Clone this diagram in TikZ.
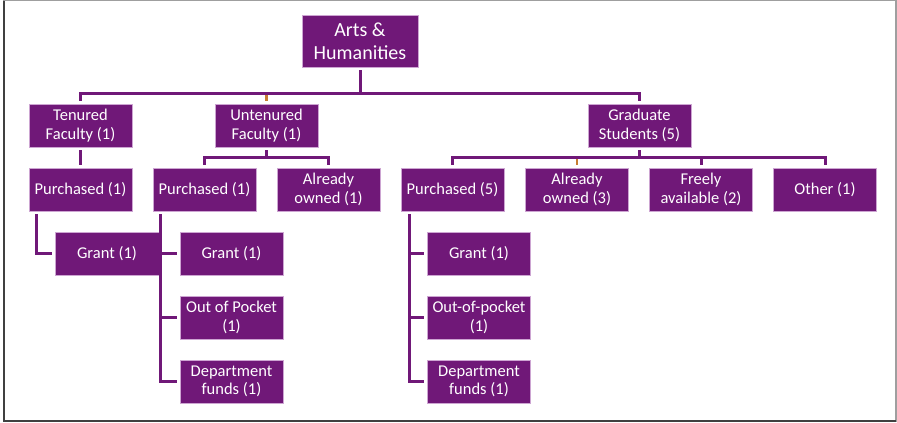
\documentclass[tikz,border=0pt]{standalone}
\usepackage{fontspec}
\setmainfont{Carlito}
\usetikzlibrary{calc}
\definecolor{pp}{RGB}{112,24,120}
\definecolor{pedge}{RGB}{205,165,210}
\definecolor{tickc}{RGB}{200,125,50}
\begin{document}
\begin{tikzpicture}[x=1pt,y=-1pt,
  box/.style={fill=pp, draw=pedge, line width=0.8pt, text=white, align=center,
    minimum width=103pt, minimum height=43pt, inner sep=0pt,
    font=\fontsize{16.5}{18.5}\selectfont},
  conn/.style={draw=pp, line width=3pt, shorten <=3pt, shorten >=3pt},
  tickline/.style={draw=tickc, line width=2.2pt, shorten <=3pt}]
\useasboundingbox (0,0) rectangle (897,423);
\draw[gray!75, line width=1.2pt] (4,0.8) rectangle (896,421);
\draw[gray!50!black, line width=1.6pt] (4,0.8) -- (4,421) -- (896,421);
% nodes
\node[box, minimum width=116pt, minimum height=52pt, font=\fontsize{20}{23}\selectfont] (root) at (360,41) {Arts \&\\Humanities};
\node[box] (tf) at (80.5,125.5) {Tenured\\Faculty (1)};
\node[box] (uf) at (266.5,125.5) {Untenured\\Faculty (1)};
\node[box] (gs) at (639.5,125.5) {Graduate\\Students (5)};
\node[box] (tp) at (80.5,189.5) {Purchased (1)};
\node[box] (up) at (204.5,189.5) {Purchased (1)};
\node[box] (uo) at (328.5,189.5) {Already\\owned (1)};
\node[box] (gp) at (452.5,189.5) {Purchased (5)};
\node[box] (go) at (577,189.5) {Already\\owned (3)};
\node[box] (gf) at (701,189.5) {Freely\\available (2)};
\node[box] (gx) at (825,189.5) {Other (1)};
\node[box, minimum width=104pt] (tg) at (107,253.5) {Grant (1)};
\node[box] (ug) at (231.5,253.5) {Grant (1)};
\node[box] (uop) at (231.5,317.5) {Out of Pocket\\(1)};
\node[box] (ud) at (231.5,381.5) {Department\\funds (1)};
\node[box] (gg) at (479,253.5) {Grant (1)};
\node[box] (gop) at (479,317.5) {Out-of-pocket\\(1)};
\node[box] (gd) at (479,381.5) {Department\\funds (1)};
% level 1
\coordinate (b1) at (360,93);
\draw[tickline] (uf.north) -- (uf.north |- b1);
\draw[conn] (tf.north) -- (tf.north |- b1) -- (gs.north |- b1) -- (gs.north);
\draw[conn, shorten >=0pt] (root.south) -- (root.south |- b1);
% level 2
\coordinate (b2) at (360,157);
\draw[conn] (tf.south) -- (tp.north);
\draw[conn] (up.north) -- (up.north |- b2) -- (uo.north |- b2) -- (uo.north);
\draw[conn, shorten >=0pt] (uf.south) -- (uf.south |- b2);
\draw[tickline] (go.north) -- (go.north |- b2);
\draw[conn] (gp.north) -- (gp.north |- b2) -- (gx.north |- b2) -- (gx.north);
\draw[conn, shorten >=0pt] (gf.north) -- (gf.north |- b2);
\draw[conn, shorten >=0pt] (gs.south) -- (gs.south |- b2);
% level 3
\coordinate (tv) at ($(tp.south west)+(8,0)$);
\coordinate (uv) at ($(up.south west)+(8,0)$);
\coordinate (gv) at ($(gp.south west)+(9,0)$);
\draw[conn] (tv) |- (tg.west);
\draw[conn] (uv) |- (ud.west);
\draw[conn, shorten <=0pt] (uv |- ug.west) -- (ug.west);
\draw[conn, shorten <=0pt] (uv |- uop.west) -- (uop.west);
\draw[conn] (gv) |- (gd.west);
\draw[conn, shorten <=0pt] (gv |- gg.west) -- (gg.west);
\draw[conn, shorten <=0pt] (gv |- gop.west) -- (gop.west);
\end{tikzpicture}
\end{document}
